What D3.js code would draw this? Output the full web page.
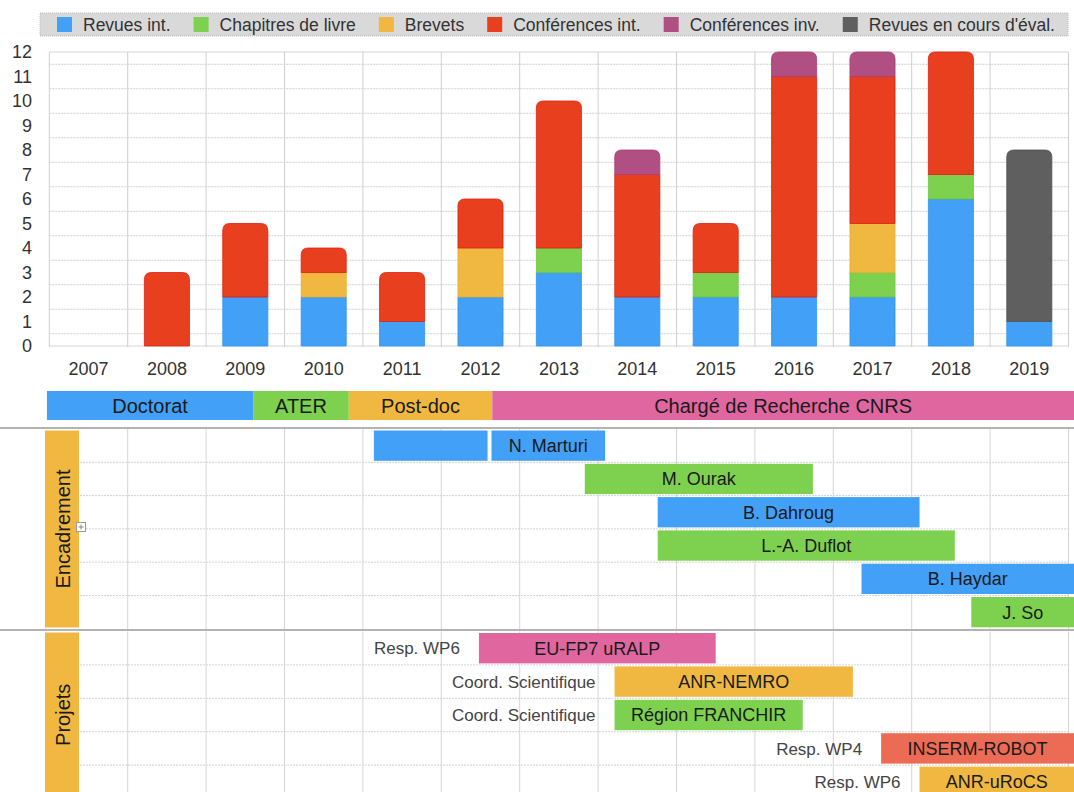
<!DOCTYPE html>
<html>
<head>
<meta charset="utf-8">
<script src="https://cdn.jsdelivr.net/npm/d3@7"></script>
<style>
  body { margin: 0; background: #fff; }
  svg { display: block; font-family: "Liberation Sans", Helvetica, Arial, sans-serif; }
</style>
</head>
<body>
<div class="chart"></div>
<script>
// publications per year
var years = [2007, 2008, 2009, 2010, 2011, 2012, 2013, 2014, 2015, 2016, 2017, 2018, 2019];
var seriesNames = ["Revues int.", "Chapitres de livre", "Brevets", "Conférences int.", "Conférences inv.", "Revues en cours d'éval."];
var revues     = [0, 0, 2, 2, 1, 2, 3, 2, 2, 2, 2, 6, 1];
var chapitres  = [0, 0, 0, 0, 0, 0, 1, 0, 1, 0, 1, 1, 0];
var brevets    = [0, 0, 0, 1, 0, 2, 0, 0, 0, 0, 2, 0, 0];
var confInt    = [0, 3, 3, 1, 2, 2, 6, 5, 2, 9, 6, 5, 0];
var confInv    = [0, 0, 0, 0, 0, 0, 0, 1, 0, 1, 1, 0, 0];
var revuesEval = [0, 0, 0, 0, 0, 0, 0, 0, 0, 0, 0, 0, 7];
var yTicks = [0, 1, 2, 3, 4, 5, 6, 7, 8, 9, 10, 11, 12];

// career
var careerLabels = ["Doctorat", "ATER", "Post-doc", "Chargé de Recherche CNRS"];
var careerStart  = [2006.97, 2009.6, 2010.82, 2012.65];
var careerEnd    = [2009.6, 2010.82, 2012.65, 2020.2];

// supervision (N. Marturi has two periods, the first one unlabelled)
var studentLabels = ["", "N. Marturi", "M. Ourak", "B. Dahroug", "L.-A. Duflot", "B. Haydar", "J. So"];
var studentRow    = [0, 0, 1, 2, 3, 4, 5];
var studentStart  = [2011.14, 2012.64, 2013.83, 2014.76, 2014.76, 2017.36, 2018.76];
var studentEnd    = [2012.59, 2014.09, 2016.74, 2018.1, 2018.55, 2020.2, 2020.2];

// projects
var projectLabels = ["EU-FP7 uRALP", "ANR-NEMRO", "Région FRANCHIR", "INSERM-ROBOT", "ANR-uRoCS"];
var projectRoles  = ["Resp. WP6", "Coord. Scientifique", "Coord. Scientifique", "Resp. WP4", "Resp. WP6"];
var projectStart  = [2012.48, 2014.21, 2014.21, 2017.61, 2018.1];
var projectEnd    = [2015.5, 2017.25, 2016.61, 2020.2, 2020.2];

var seriesColors = ["#42a0f6", "#7dd14f", "#f0b840", "#e8401f", "#b04f82", "#5f5f5f"];
var careerColors = ["#42a0f6", "#7dd14f", "#f0b840", "#e066a0"];
var studentColors = ["#42a0f6", "#42a0f6", "#7dd14f", "#42a0f6", "#7dd14f", "#42a0f6", "#7dd14f"];
var projectColors = ["#e066a0", "#f0b840", "#7dd14f", "#ec6b55", "#f0b840"];

var svgWidth = 1074, svgHeight = 792;

var svg = d3.select(".chart")
    .append("svg")
    .attr("width", svgWidth)
    .attr("height", svgHeight);

var plotLeft = 49.3, plotRight = 1068.5;
var plotTop = 52, plotBottom = 346;

// scales
var xBand = d3.scaleBand()
    .domain(years)
    .range([plotLeft, plotRight])
    .paddingInner(0.425)
    .paddingOuter(0.2125);

var yScale = d3.scaleLinear()
    .domain([0, 12])
    .range([plotBottom, plotTop]);

var xTime = d3.scaleLinear()
    .domain([2007, 2020])
    .range([plotLeft, plotRight]);

// ---- legend
var legend = svg.append("g");
legend.append("rect")
    .attr("x", 40).attr("y", 13)
    .attr("width", 1028).attr("height", 23)
    .attr("fill", "#d9d9d9")
    .attr("stroke", "#b8b8b8")
    .attr("stroke-dasharray", "1,1");

var items = seriesNames.map(function (name, i) {
    var sw = legend.append("rect")
        .attr("y", 17)
        .attr("width", 15).attr("height", 15)
        .attr("fill", seriesColors[i]);
    var t = legend.append("text")
        .attr("y", 25)
        .attr("dy", "0.35em")
        .attr("font-size", 17.5)
        .attr("fill", "#333")
        .text(name);
    return { sw: sw, t: t, w: t.node().getComputedTextLength() };
});
// spread the items so the last one ends near the right of the box
var legStart = 57, legEnd = 1055;
var used = d3.sum(items, d => 26 + d.w);
var gap = (legEnd - legStart - used) / (items.length - 1);
var lx = legStart;
items.forEach(function (d) {
    d.sw.attr("x", lx);
    d.t.attr("x", lx + 26);
    lx += 26 + d.w + gap;
});

// ---- bar chart grid
var grid = svg.append("g");
d3.range(0.5, 12, 1).forEach(function (v) {
    grid.append("line")
        .attr("x1", plotLeft).attr("x2", plotRight)
        .attr("y1", yScale(v)).attr("y2", yScale(v))
        .attr("stroke", "#cfcfcf")
        .attr("stroke-dasharray", "2,1");
});
[0, 12].forEach(function (v) {
    grid.append("line")
        .attr("x1", plotLeft).attr("x2", plotRight)
        .attr("y1", yScale(v)).attr("y2", yScale(v))
        .attr("stroke", "#d6d6d6");
});
d3.range(2007, 2021).forEach(function (yr) {
    grid.append("line")
        .attr("x1", xTime(yr)).attr("x2", xTime(yr))
        .attr("y1", plotTop).attr("y2", plotBottom + 1)
        .attr("stroke", "#cfcfcf");
});

// ---- axes
var yAxis = d3.axisLeft(yScale).tickValues(yTicks).tickSize(0).tickPadding(0);
svg.append("g")
    .attr("transform", "translate(32,0)")
    .call(yAxis)
    .call(g => g.select(".domain").remove())
    .selectAll("text")
    .attr("font-size", 18)
    .attr("font-family", "Liberation Sans, Helvetica, Arial, sans-serif")
    .attr("fill", "#333");

var xAxis = d3.axisBottom(xBand).tickSize(0).tickPadding(0);
svg.append("g")
    .attr("transform", "translate(0,362)")
    .call(xAxis)
    .call(g => g.select(".domain").remove())
    .selectAll("text")
    .attr("font-size", 18)
    .attr("font-family", "Liberation Sans, Helvetica, Arial, sans-serif")
    .attr("fill", "#333");

// ---- stacked bars
var table = years.map(function (yr, i) {
    return { year: yr, s0: revues[i], s1: chapitres[i], s2: brevets[i], s3: confInt[i], s4: confInv[i], s5: revuesEval[i] };
});
var keys = ["s0", "s1", "s2", "s3", "s4", "s5"];
var stacked = d3.stack().keys(keys)(table);

function segPath(x, w, y0, y1, r) {
    // bar segment, rounded on the top only when r > 0
    var h = y0 - y1;
    r = Math.min(r, h, w / 2);
    return "M" + x + "," + y0 +
        "V" + (y1 + r) +
        "Q" + x + "," + y1 + " " + (x + r) + "," + y1 +
        "H" + (x + w - r) +
        "Q" + (x + w) + "," + y1 + " " + (x + w) + "," + (y1 + r) +
        "V" + y0 + "Z";
}

var strokeColors = ["#2d95f0", "#6cc63c", "#eaae2c", "#e01d10", "#a83c78", "#505050"];
stacked.forEach(function (layer, k) {
    svg.append("g").selectAll("path")
        .data(layer.filter(d => d[1] > d[0]))
        .enter()
        .append("path")
        .attr("d", function (d) {
            var isTop = d[1] === d3.sum(keys, kk => d.data[kk]);
            return segPath(xBand(d.data.year), xBand.bandwidth(), yScale(d[0]), yScale(d[1]), isTop ? 7 : 0);
        })
        .attr("fill", seriesColors[k])
        .attr("stroke", strokeColors[k])
        .attr("stroke-width", 0.8);
});

// ---- career band
var career = svg.append("g");
careerLabels.forEach(function (lab, i) {
    var x0 = xTime(careerStart[i]), x1 = Math.min(xTime(careerEnd[i]), svgWidth);
    career.append("rect")
        .attr("x", x0).attr("y", 391)
        .attr("width", x1 - x0).attr("height", 29)
        .attr("fill", careerColors[i]);
    career.append("text")
        .attr("x", (x0 + x1) / 2).attr("y", 406)
        .attr("dy", "0.36em")
        .attr("text-anchor", "middle")
        .attr("font-size", 20)
        .attr("fill", "#1a1a1a")
        .text(lab);
});

// ---- lower grids (supervision + projects)
function lowerGrid(y0, y1, rowLines) {
    var g = svg.append("g");
    d3.range(2008, 2021).forEach(function (yr) {
        g.append("line")
            .attr("x1", xTime(yr)).attr("x2", xTime(yr))
            .attr("y1", y0).attr("y2", y1)
            .attr("stroke", "#d6d6d6");
    });
    rowLines.forEach(function (y) {
        g.append("line")
            .attr("x1", 80).attr("x2", plotRight)
            .attr("y1", y).attr("y2", y)
            .attr("stroke", "#d3d3d3")
            .attr("stroke-dasharray", "2,1");
    });
}

var encTop = 429, encRow = 33.3;
var projTop = 631.5, projRow = 33.4;
lowerGrid(encTop, 629, d3.range(1, 6).map(i => encTop + i * encRow));
lowerGrid(projTop, svgHeight, d3.range(1, 5).map(i => projTop + i * projRow));

// separators
[428, 630].forEach(function (y) {
    svg.append("line")
        .attr("x1", 0).attr("x2", svgWidth)
        .attr("y1", y).attr("y2", y)
        .attr("stroke", "#9a9a9a")
        .attr("stroke-width", 1.5);
});

// section labels
function sectionLabel(y0, y1, txt) {
    svg.append("rect")
        .attr("x", 45).attr("y", y0)
        .attr("width", 34).attr("height", y1 - y0)
        .attr("fill", "#f0b840");
    svg.append("text")
        .attr("transform", "translate(63," + ((y0 + y1) / 2) + ") rotate(-90)")
        .attr("text-anchor", "middle")
        .attr("dy", "0.35em")
        .attr("font-size", 20)
        .attr("fill", "#1a1a1a")
        .text(txt);
}
sectionLabel(430.5, 627.5, "Encadrement");
sectionLabel(632.5, svgHeight + 5, "Projets");

// little expand icon
svg.append("rect")
    .attr("x", 76.5).attr("y", 522.5)
    .attr("width", 9).attr("height", 9)
    .attr("fill", "#fff").attr("stroke", "#999");
svg.append("path")
    .attr("d", "M78.5,527H83.5M81,524.5V529.5")
    .attr("stroke", "#888");

// supervision bars
var enc = svg.append("g");
studentLabels.forEach(function (lab, i) {
    var x0 = xTime(studentStart[i]), x1 = Math.min(xTime(studentEnd[i]), svgWidth);
    var y = encTop + studentRow[i] * encRow + 1.5;
    enc.append("rect")
        .attr("x", x0).attr("y", y)
        .attr("width", x1 - x0).attr("height", encRow - 3)
        .attr("fill", studentColors[i]);
    enc.append("text")
        .attr("x", (x0 + x1) / 2).attr("y", y + (encRow - 3) / 2)
        .attr("dy", "0.36em")
        .attr("text-anchor", "middle")
        .attr("font-size", 18)
        .attr("fill", "#1a1a1a")
        .text(lab);
});

// project bars
var proj = svg.append("g");
projectLabels.forEach(function (lab, i) {
    var x0 = xTime(projectStart[i]), x1 = Math.min(xTime(projectEnd[i]), svgWidth);
    var y = projTop + i * projRow + 1.5;
    proj.append("rect")
        .attr("x", x0).attr("y", y)
        .attr("width", x1 - x0).attr("height", projRow - 3)
        .attr("fill", projectColors[i]);
    proj.append("text")
        .attr("x", (x0 + x1) / 2).attr("y", y + (projRow - 3) / 2)
        .attr("dy", "0.36em")
        .attr("text-anchor", "middle")
        .attr("font-size", 18)
        .attr("fill", "#1a1a1a")
        .text(lab);
    proj.append("text")
        .attr("x", x0 - 19).attr("y", y + (projRow - 3) / 2)
        .attr("dy", "0.36em")
        .attr("text-anchor", "end")
        .attr("font-size", 17)
        .attr("fill", "#444")
        .text(projectRoles[i]);
});
</script>
</body>
</html>
